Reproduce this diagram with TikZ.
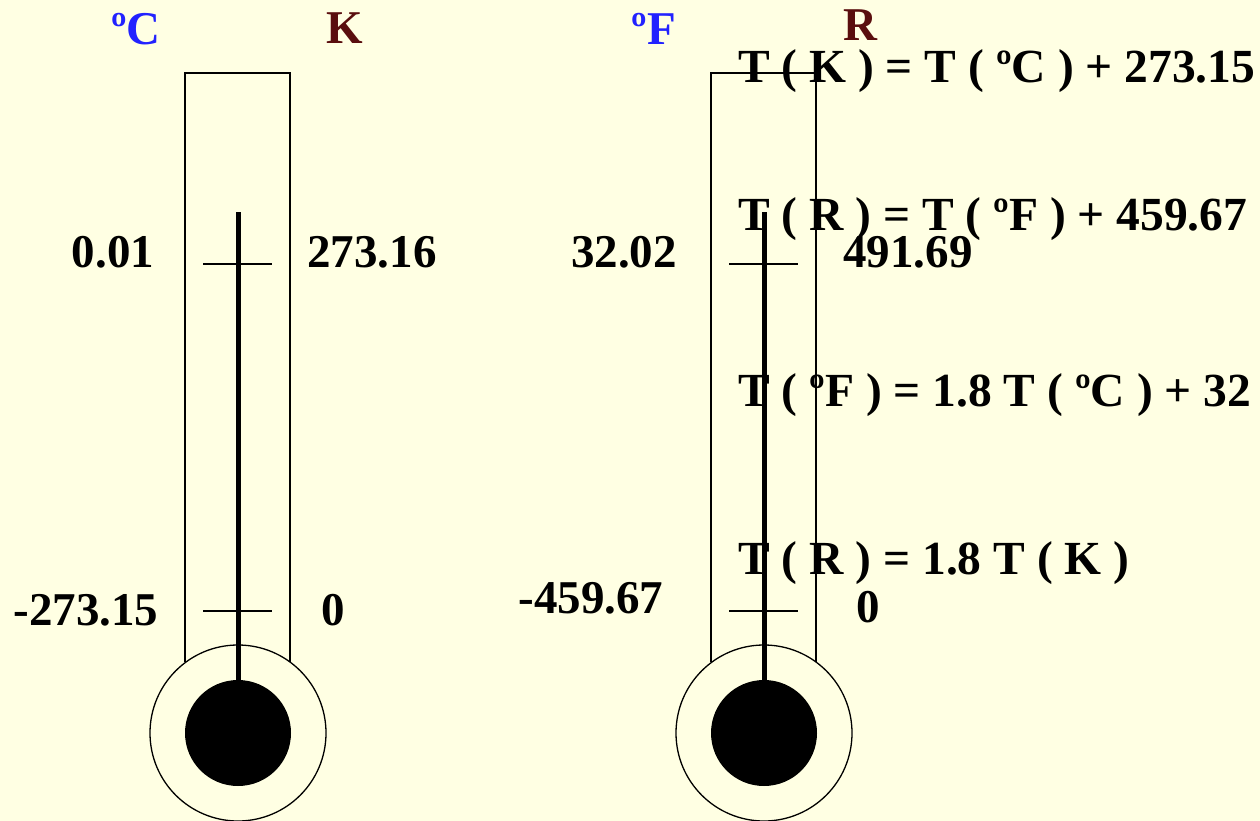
\documentclass[tikz,border=0pt]{standalone}
\usepackage{fontspec}
\setmainfont{Liberation Serif}
\definecolor{paper}{HTML}{FFFFE3}
\definecolor{celsblue}{HTML}{2222FF}
\definecolor{kelvred}{HTML}{5A0E0E}
\tikzset{
  lbl/.style={inner sep=0pt,anchor=base,font=\fontsize{47}{50}\selectfont\bfseries},
  eqn/.style={inner sep=0pt,anchor=base west,font=\fontsize{47.5}{50}\selectfont\bfseries},
}
\begin{document}
\begin{tikzpicture}[x=1pt,y=-1pt]
\fill[paper] (0,0) rectangle (1260,821);
\useasboundingbox (0,0) rectangle (1260,821);
\def\by{733}
\foreach \dx in {0,526}
{\draw[line width=1.3pt] ({185+\dx},662)--({185+\dx},73)--({290+\dx},73)--({290+\dx},662);
 \draw[line width=1.3pt] ({238+\dx},\by) circle (88);
 \fill ({238+\dx},\by) circle (53);
 \draw[line width=5pt] ({238+\dx},212)--({238+\dx},\by);
 \foreach \ty in {264,611}
   {\draw[line width=1.3pt] ({203+\dx},\ty)--({272+\dx},\ty);}}
% scale names
\node[lbl,celsblue] (degc) at (136,45) {ºC};
\node[lbl,kelvred] (kelv) at (345,44) {K};
\node[lbl,celsblue] (degf) at (654,45) {ºF};
\node[lbl,kelvred] (rank) at (860,41) {R};
% fixed points
\node[lbl] (tpc) at (113,267) {0.01};
\node[lbl] (tpk) at (372,267) {273.16};
\node[lbl] (azc) at (86,625) {-273.15};
\node[lbl] (azk) at (333,625) {0};
\node[lbl] (tpf) at (624,267) {32.02};
\node[lbl] (tpr) at (908,267) {491.69};
\node[lbl] (azf) at (591,613) {-459.67};
\node[lbl] (azr) at (868,622) {0};
% relations
\node[eqn] (eqkc) at (738,83) {T ( K ) = T ( ºC ) + 273.15};
\node[eqn] (eqrf) at (738,230) {T ( R ) = T ( ºF ) + 459.67};
\node[eqn] (eqfc) at (738,406) {T ( ºF ) = 1.8 T ( ºC ) + 32};
\node[eqn] (eqrk) at (738,574) {T ( R ) = 1.8 T ( K )};
\end{tikzpicture}
\end{document}
